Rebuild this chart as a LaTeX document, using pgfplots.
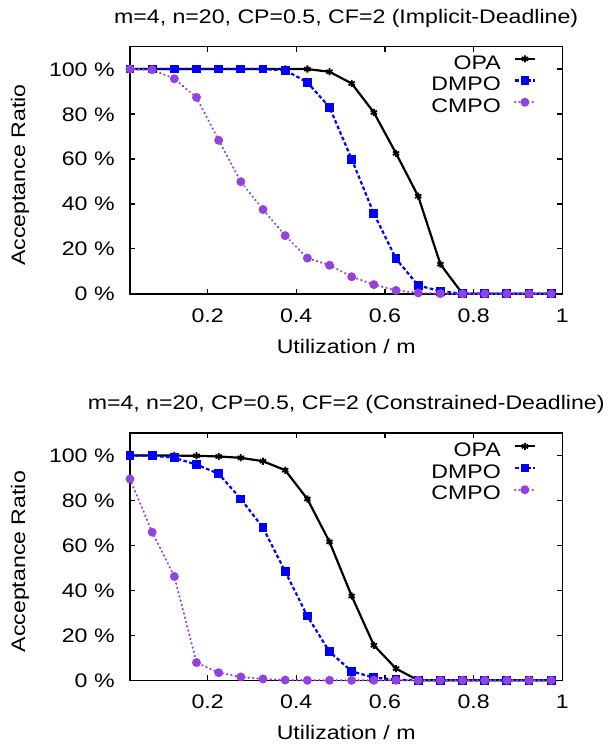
\documentclass[border=0pt]{standalone}
\usepackage{fontspec}
\setmainfont{Liberation Sans}[FakeStretch=1.18]
\usepackage{pgfplots}
\pgfplotsset{compat=1.18}
\definecolor{dmpocol}{RGB}{0,0,255}
\definecolor{cmpocol}{RGB}{148,66,222}
\pgfplotsset{
  common/.style={
    scale only axis,
    width=216.15pt, height=123.6pt,
    xmin=0.025, xmax=1, ymin=0, ymax=110,
    xtick={0.2,0.4,0.6,0.8,1},
    ytick={0,20,40,60,80,100},
    yticklabel={\pgfmathprintnumber{\tick} \%},
    /pgf/number format/assume math mode=true,
    /pgf/number format/fixed,
    font=\fontsize{9.8pt}{11.8pt}\selectfont,
    axis line style={line width=0.7pt},
    every tick/.style={black, line width=0.6pt},
    major tick length=2.5pt,
    tick align=inside,
    xticklabel style={anchor=base, yshift=-14.15pt, inner sep=0pt},
    yticklabel style={anchor=base east, xshift=-7.5pt, yshift=-3.5pt, inner sep=0pt},
    xlabel={Utilization / m},
    ylabel={Acceptance Ratio},
    xlabel style={at={(axis description cs:0.5,0)}, anchor=base, yshift=-29.7pt, inner sep=0pt},
    ylabel style={at={(axis description cs:-0.2428,0.48)}, anchor=base, rotate=0, inner sep=0pt},
    every axis title shift=0pt,
    title style={at={(axis description cs:0.5,1)}, anchor=base, yshift=11.8pt, inner sep=0pt},
    clip=false,
    legend plot pos=right,
    legend cell align=right,
    legend style={at={(axis description cs:1,1)}, anchor=north east, xshift=-13.15pt, yshift=-4.2pt,
      draw=none, fill=none, inner sep=0pt, outer sep=0pt, row sep=0pt, column sep=6.5pt,
      nodes={inner sep=0pt, text height=7pt, text depth=3.85pt}},
    legend image code/.code={\draw[mark repeat=2, mark phase=2, ##1] plot coordinates {(0pt,3.5pt) (5pt,3.5pt) (10pt,3.5pt)};},
    every axis plot/.append style={line width=1.1pt},
  },
  opastyle/.style={black, solid, mark=asterisk, mark size=1.8pt, mark options={solid, line width=0.9pt}},
  dmpostyle/.style={color=dmpocol, dash pattern=on 1.8pt off 1.2pt, mark=square*, mark size=1.65pt, mark options={solid, fill=dmpocol}},
  cmpostyle/.style={color=cmpocol, line cap=round, dash pattern=on 0.2pt off 2pt, mark=*, mark size=1.65pt, mark options={solid, fill=cmpocol}},
}
\begin{document}
\begin{tikzpicture}
\useasboundingbox (0,0) rectangle (304pt,-373pt);
\begin{axis}[common, at={(65pt,-23.3pt)}, anchor=north west,
  title={m=4, n=20, CP=0.5, CF=2 (Implicit-Deadline)}]
\addplot[opastyle] coordinates {
(0.025,100) (0.075,100) (0.125,100) (0.175,100) (0.225,100) (0.275,100) (0.325,100) (0.375,100)
(0.425,100) (0.475,98.8) (0.525,93.6) (0.575,80.7) (0.625,62.5) (0.675,43.4) (0.725,13.2)
(0.775,0) (0.825,0) (0.875,0) (0.925,0) (0.975,0)};
\addlegendentry{OPA}
\addplot[dmpostyle] coordinates {
(0.025,100) (0.075,100) (0.125,100) (0.175,100) (0.225,100) (0.275,100) (0.325,100) (0.375,99.5)
(0.425,94.1) (0.475,83) (0.525,59.9) (0.575,35.7) (0.625,15.6) (0.675,3.7) (0.725,1.2)
(0.775,0) (0.825,0) (0.875,0) (0.925,0) (0.975,0)};
\addlegendentry{DMPO}
\addplot[cmpostyle] coordinates {
(0.025,100) (0.075,99.7) (0.125,95.7) (0.175,87.4) (0.225,68.3) (0.275,49.9) (0.325,37.5) (0.375,25.9)
(0.425,15.9) (0.475,12.7) (0.525,7.6) (0.575,4.1) (0.625,1.5) (0.675,0.4) (0.725,0.1)
(0.775,0) (0.825,0) (0.875,0) (0.925,0) (0.975,0)};
\addlegendentry{CMPO}
\end{axis}
\begin{axis}[common, at={(65pt,-216.55pt)}, anchor=north west,
  title={m=4, n=20, CP=0.5, CF=2 (Constrained-Deadline)},
  legend style={yshift=-0.5pt}]
\addplot[opastyle] coordinates {
(0.025,100) (0.075,100) (0.125,100) (0.175,99.9) (0.225,99.6) (0.275,99) (0.325,97.5) (0.375,93.5)
(0.425,80.7) (0.475,61.6) (0.525,37.5) (0.575,15.6) (0.625,5.2) (0.675,0) (0.725,0)
(0.775,0) (0.825,0) (0.875,0) (0.925,0) (0.975,0)};
\addlegendentry{OPA}
\addplot[dmpostyle] coordinates {
(0.025,100) (0.075,100) (0.125,99) (0.175,96) (0.225,91.9) (0.275,80.7) (0.325,67.9) (0.375,48.4)
(0.425,28.6) (0.475,12.7) (0.525,4) (0.575,1.2) (0.625,0.3) (0.675,0) (0.725,0)
(0.775,0) (0.825,0) (0.875,0) (0.925,0) (0.975,0)};
\addlegendentry{DMPO}
\addplot[cmpostyle] coordinates {
(0.025,89.6) (0.075,65.9) (0.125,46.2) (0.175,7.9) (0.225,3.4) (0.275,1.5) (0.325,0.6) (0.375,0.1)
(0.425,0) (0.475,0) (0.525,0) (0.575,0) (0.625,0) (0.675,0) (0.725,0)
(0.775,0) (0.825,0) (0.875,0) (0.925,0) (0.975,0)};
\addlegendentry{CMPO}
\end{axis}
\end{tikzpicture}
\end{document}
